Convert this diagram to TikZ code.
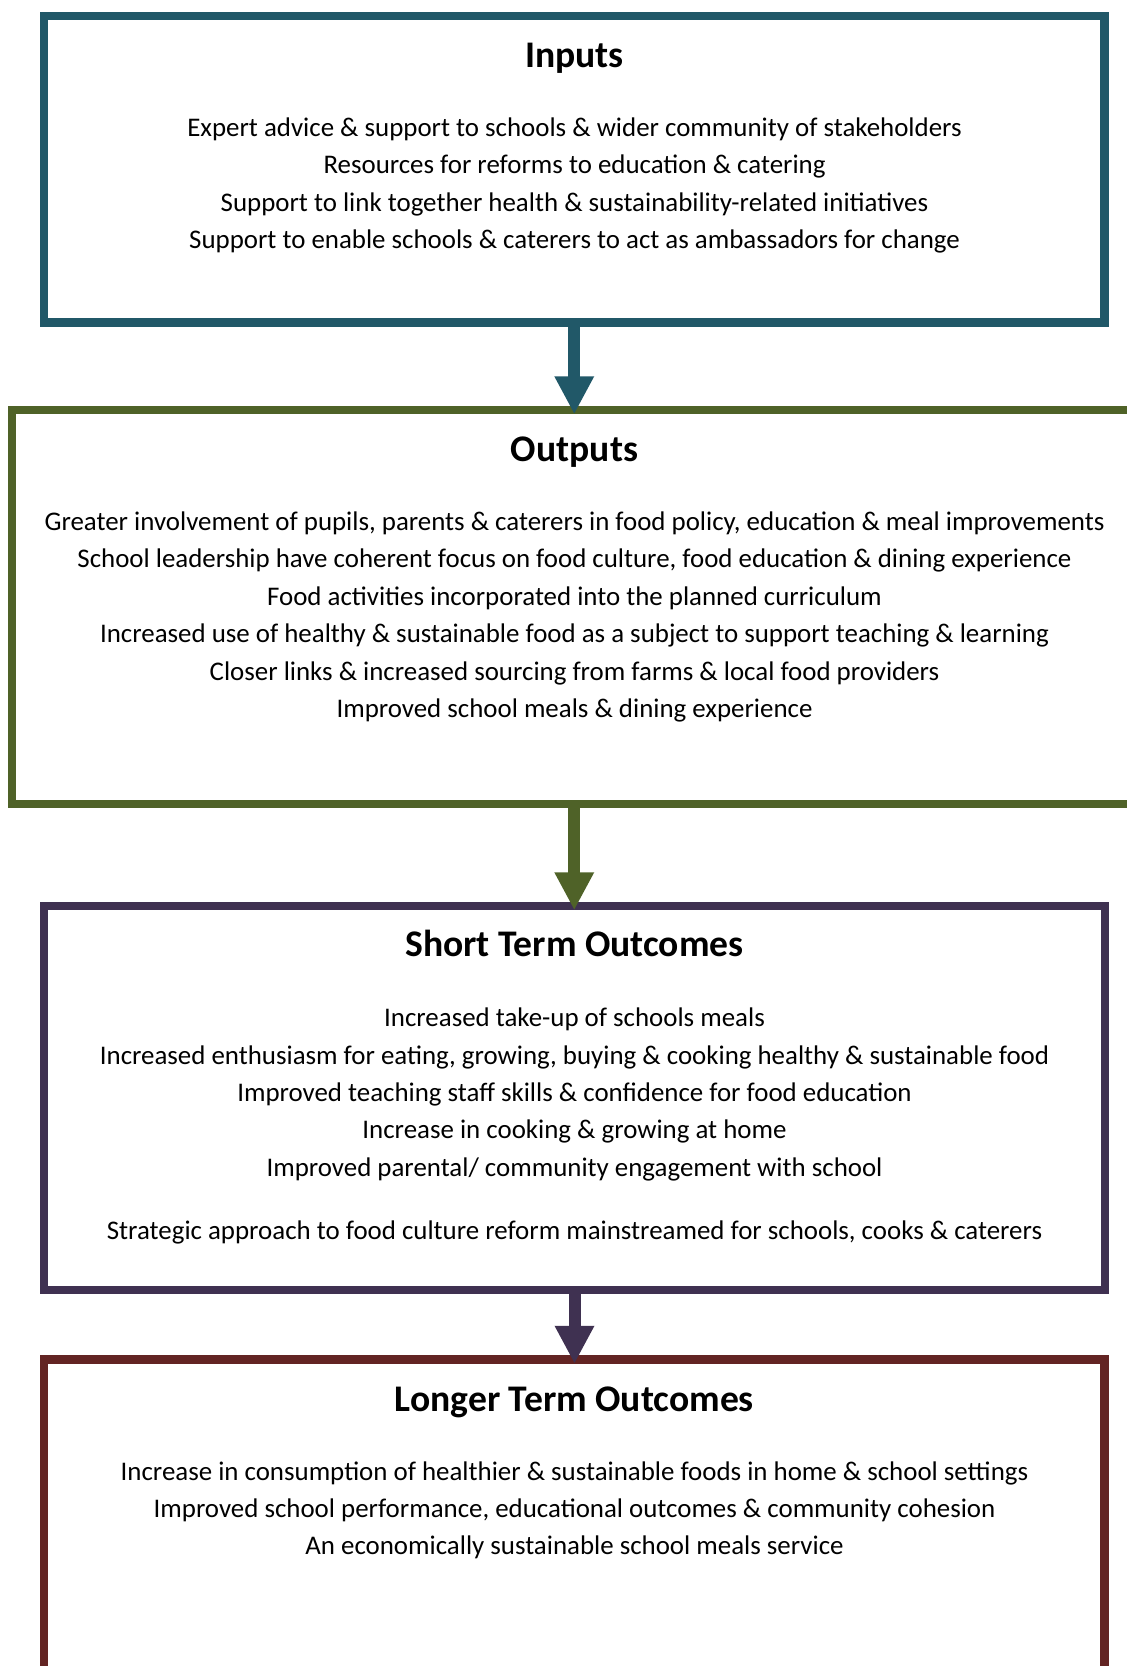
\documentclass[tikz,border=0pt]{standalone}
\usepackage{fontspec}
\setmainfont{Carlito}
\usetikzlibrary{arrows.meta}

\definecolor{inteal}{HTML}{215868}
\definecolor{outgreen}{HTML}{4F6228}
\definecolor{shortpurple}{HTML}{3F3151}
\definecolor{longred}{HTML}{632423}

\tikzset{
  stage/.style={draw=#1, line width=8.5pt, inner sep=0pt, outer sep=0pt},
  heading/.style={anchor=base, font=\fontsize{37.6}{44}\selectfont\bfseries},
  item/.style={anchor=base, font=\fontsize{26.9}{37.4}\selectfont},
  flow/.style={draw=#1, line width=12pt, -{Triangle[width=37pt,length=38pt]}, shorten >=-4.25pt}
}

\begin{document}
\begin{tikzpicture}[x=1pt, y=-1pt]
    \useasboundingbox (0,0) rectangle (1127,1666);
    \clip (0,0) rectangle (1127,1666);

    % the four stages
    \node[stage=inteal, minimum width=1060.5pt, minimum height=306.5pt] (inputs) at (574.25,169.25) {};
    \node[stage=outgreen, minimum width=1128pt, minimum height=394pt] (outputs) at (576,607) {};
    \node[stage=shortpurple, minimum width=1061pt, minimum height=384pt] (short) at (574.5,1098) {};
    \node[stage=longred, minimum width=1060.5pt, minimum height=360.5pt] (long) at (574.25,1539.75) {};

    \draw[flow=inteal] (inputs.south) -- (inputs.south |- outputs.north);
    \draw[flow=outgreen] (inputs.south |- outputs.south) -- (inputs.south |- short.north);
    \draw[flow=shortpurple] (short.south) -- (short.south |- long.north);

    % inputs
    \node[heading] (inputs-title) at (574.5,67) {Inputs};
    \foreach \txt [count=\i] in {Expert advice \& support to schools \& wider community of stakeholders,
        Resources for reforms to education \& catering,
        Support to link together health \& sustainability-related initiatives,
        Support to enable schools \& caterers to act as ambassadors for change}
        \node[item] (in-\i) at (574.5,{136.5+37.4*(\i-1)}) {\txt};

    % outputs
    \node[heading] (outputs-title) at (574.5,461) {Outputs};
    \foreach \txt [count=\i] in {{Greater involvement of pupils, parents \& caterers in food policy, education \& meal improvements},
        {School leadership have coherent focus on food culture, food education \& dining experience},
        Food activities incorporated into the planned curriculum,
        Increased use of healthy \& sustainable food as a subject to support teaching \& learning,
        Closer links \& increased sourcing from farms \& local food providers,
        Improved school meals \& dining experience}
        \node[item] (out-\i) at (574.5,{530.5+37.4*(\i-1)}) {\txt};

    % short term
    \node[heading] (short-title) at (574.5,956) {Short Term Outcomes};
    \foreach \txt [count=\i] in {Increased take-up of schools meals,
        {Increased enthusiasm for eating, growing, buying \& cooking healthy \& sustainable food},
        Improved teaching staff skills \& confidence for food education,
        Increase in cooking \& growing at home,
        Improved parental/ community engagement with school}
        \node[item] (short-\i) at (574.5,{1026.6+37.4*(\i-1)}) {\txt};
    \node[item] (short-6) at (574.5,1239) {Strategic approach to food culture reform mainstreamed for schools, cooks \& caterers};

    % longer term
    \node[heading] (long-title) at (574.5,1411) {Longer Term Outcomes};
    \foreach \txt [count=\i] in {Increase in consumption of healthier \& sustainable foods in home \& school settings,
        {Improved school performance, educational outcomes \& community cohesion},
        An economically sustainable school meals service}
        \node[item] (long-\i) at (574.5,{1480+37.4*(\i-1)}) {\txt};

\end{tikzpicture}
\end{document}
